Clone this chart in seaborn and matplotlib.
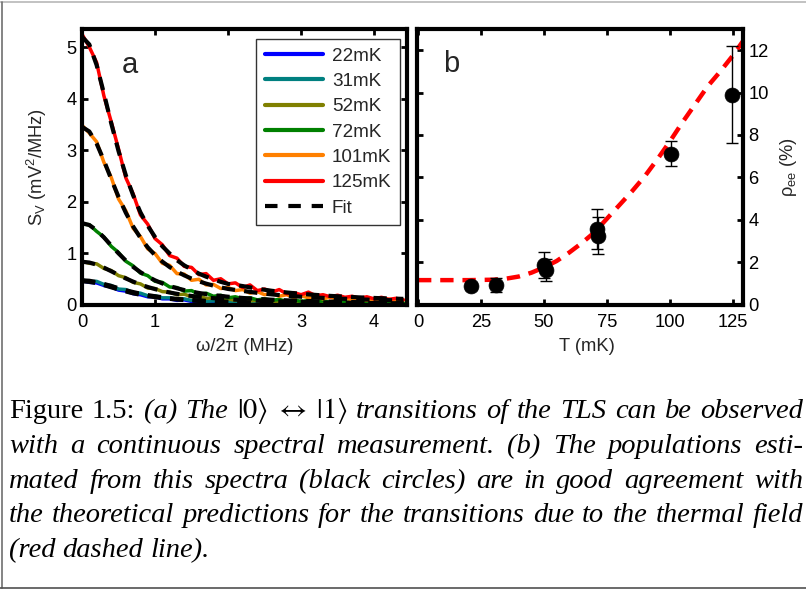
import matplotlib
matplotlib.use("Agg")
import numpy as np
import pandas as pd
import matplotlib.pyplot as plt
import seaborn as sns
from matplotlib.lines import Line2D
from matplotlib.transforms import IdentityTransform

# ---------------- data: panel a (spectra) ----------------
freq = [0.0, 0.1, 0.2, 0.3, 0.4, 0.5, 0.6, 0.7, 0.8, 0.9, 1.0, 1.1, 1.2, 1.3, 1.4,
        1.5, 1.6, 1.7, 1.8, 1.9, 2.0, 2.1, 2.2, 2.3, 2.4, 2.5, 2.6, 2.7, 2.8, 2.9,
        3.0, 3.1, 3.2, 3.3, 3.4, 3.5, 3.6, 3.7, 3.8, 3.9, 4.0, 4.1, 4.2, 4.3, 4.4]
temps = ["22mK", "31mK", "52mK", "72mK", "101mK", "125mK"]
colors = ["#0000ff", "#008080", "#808000", "#008000", "#ff8000", "#ff0000"]

s_22 = [0.46, 0.43, 0.42, 0.37, 0.34, 0.28, 0.26, 0.21, 0.19, 0.15, 0.15, 0.11, 0.11, 0.08, 0.09,
        0.06, 0.07, 0.05, 0.06, 0.04, 0.05, 0.03, 0.04, 0.02, 0.03, 0.02, 0.03, 0.01, 0.03, 0.01,
        0.02, 0.01, 0.02, 0.00, 0.02, 0.01, 0.01, 0.00, 0.01, 0.00, 0.01, 0.00, 0.01, 0.00, 0.01]
s_31 = [0.48, 0.44, 0.45, 0.39, 0.37, 0.30, 0.29, 0.23, 0.22, 0.17, 0.17, 0.13, 0.13, 0.10, 0.11,
        0.08, 0.09, 0.06, 0.07, 0.05, 0.06, 0.04, 0.05, 0.03, 0.05, 0.03, 0.04, 0.02, 0.04, 0.02,
        0.03, 0.02, 0.03, 0.01, 0.03, 0.01, 0.02, 0.01, 0.02, 0.01, 0.02, 0.01, 0.02, 0.01, 0.01]
s_52 = [0.84, 0.80, 0.79, 0.70, 0.66, 0.56, 0.52, 0.43, 0.40, 0.32, 0.31, 0.25, 0.24, 0.19, 0.20,
        0.15, 0.16, 0.12, 0.13, 0.10, 0.11, 0.08, 0.10, 0.07, 0.08, 0.06, 0.07, 0.05, 0.07, 0.04,
        0.06, 0.04, 0.05, 0.03, 0.05, 0.03, 0.04, 0.02, 0.04, 0.02, 0.04, 0.02, 0.03, 0.02, 0.03]
s_72 = [1.56, 1.55, 1.42, 1.31, 1.13, 1.01, 0.84, 0.75, 0.61, 0.56, 0.45, 0.43, 0.34, 0.33, 0.26,
        0.27, 0.20, 0.22, 0.16, 0.18, 0.13, 0.15, 0.11, 0.13, 0.09, 0.11, 0.08, 0.10, 0.06, 0.09,
        0.06, 0.08, 0.05, 0.07, 0.04, 0.07, 0.04, 0.06, 0.03, 0.06, 0.03, 0.05, 0.03, 0.05, 0.03]
s_101 = [3.48, 3.33, 3.16, 2.76, 2.47, 2.05, 1.82, 1.48, 1.32, 1.08, 0.99, 0.80, 0.76, 0.60, 0.59,
         0.47, 0.49, 0.38, 0.39, 0.31, 0.33, 0.27, 0.29, 0.22, 0.25, 0.19, 0.22, 0.16, 0.19, 0.14,
         0.17, 0.13, 0.15, 0.11, 0.14, 0.10, 0.13, 0.09, 0.12, 0.08, 0.11, 0.08, 0.10, 0.07, 0.09]
s_125 = [5.25, 5.00, 4.70, 4.05, 3.55, 3.02, 2.46, 2.15, 1.74, 1.56, 1.28, 1.16, 0.95, 0.90, 0.74,
         0.72, 0.58, 0.60, 0.47, 0.50, 0.40, 0.42, 0.33, 0.38, 0.27, 0.30, 0.24, 0.29, 0.21, 0.23,
         0.19, 0.24, 0.17, 0.19, 0.15, 0.18, 0.14, 0.16, 0.12, 0.15, 0.11, 0.14, 0.10, 0.12, 0.09]

fit_freq = [0.0, 0.1, 0.2, 0.3, 0.4, 0.5, 0.6, 0.7, 0.8, 0.9, 1.0, 1.1, 1.2, 1.3, 1.4, 1.5,
            1.6, 1.7, 1.8, 1.9, 2.0, 2.2, 2.4, 2.6, 2.8, 3.0, 3.2, 3.4, 3.6, 3.8, 4.0, 4.2, 4.4]
fit_22 = [0.450, 0.440, 0.414, 0.377, 0.334, 0.292, 0.253, 0.218, 0.189, 0.164, 0.142, 0.124,
          0.109, 0.097, 0.086, 0.077, 0.069, 0.062, 0.056, 0.051, 0.047, 0.039, 0.033, 0.029,
          0.025, 0.022, 0.019, 0.017, 0.016, 0.014, 0.013, 0.011, 0.010]
fit_31 = [0.470, 0.461, 0.436, 0.400, 0.359, 0.317, 0.277, 0.242, 0.210, 0.183, 0.160, 0.141,
          0.124, 0.110, 0.098, 0.088, 0.079, 0.071, 0.065, 0.059, 0.054, 0.045, 0.039, 0.033,
          0.029, 0.026, 0.023, 0.020, 0.018, 0.016, 0.015, 0.013, 0.012]
fit_52 = [0.830, 0.815, 0.775, 0.716, 0.646, 0.575, 0.506, 0.444, 0.388, 0.340, 0.299, 0.263,
          0.233, 0.207, 0.185, 0.166, 0.150, 0.135, 0.123, 0.112, 0.102, 0.086, 0.074, 0.064,
          0.056, 0.049, 0.043, 0.039, 0.035, 0.031, 0.028, 0.026, 0.023]
fit_72 = [1.580, 1.543, 1.443, 1.303, 1.146, 0.993, 0.853, 0.731, 0.628, 0.542, 0.469, 0.409,
          0.358, 0.316, 0.280, 0.250, 0.224, 0.202, 0.182, 0.166, 0.151, 0.127, 0.108, 0.093,
          0.081, 0.071, 0.063, 0.056, 0.050, 0.045, 0.041, 0.037, 0.034]
fit_101 = [3.450, 3.360, 3.125, 2.796, 2.436, 2.091, 1.781, 1.516, 1.295, 1.110, 0.958, 0.832,
           0.727, 0.639, 0.566, 0.503, 0.450, 0.405, 0.366, 0.332, 0.302, 0.264, 0.226, 0.196,
           0.171, 0.151, 0.135, 0.121, 0.109, 0.099, 0.091, 0.084, 0.077]
fit_125 = [5.200, 5.050, 4.650, 4.100, 3.520, 2.980, 2.510, 2.120, 1.790, 1.530, 1.310, 1.130,
           0.990, 0.860, 0.760, 0.680, 0.600, 0.540, 0.490, 0.440, 0.400, 0.358, 0.307, 0.266,
           0.234, 0.207, 0.186, 0.167, 0.152, 0.138, 0.127, 0.117, 0.109]

# ---------------- data: panel b (populations) ----------------
T_meas = [21, 31, 50, 51, 71, 71.5, 100.5, 124.5]
rho_meas = [0.87, 0.93, 1.87, 1.65, 3.56, 3.25, 7.12, 9.90]
rho_err = [0.20, 0.33, 0.62, 0.52, 0.93, 0.87, 0.60, 2.30]

T_theory = [0, 10, 20, 30, 35, 40, 45, 50, 55, 60, 65, 70, 75, 80, 85, 90, 95, 100,
            105, 110, 115, 120, 125, 130]
rho_theory = [1.15, 1.15, 1.15, 1.17, 1.22, 1.32, 1.50, 1.75, 2.05, 2.45, 2.90, 3.40, 4.05,
              4.70, 5.35, 6.05, 6.85, 7.70, 8.60, 9.45, 10.30, 11.00, 11.75, 12.60]

caption_lines = [
    [("Figure 1.5:", "normal"), ("(a) The", "italic"),
     (r"$|0\rangle\ \leftrightarrow\ |1\rangle$", "math"),
     ("transitions of the TLS can be observed", "italic")],
    [("with a continuous spectral measurement. (b) The populations esti-", "italic")],
    [("mated from this spectra (black circles) are in good agreement with", "italic")],
    [("the theoretical predictions for the transitions due to the thermal field", "italic")],
    [("(red dashed line).", "italic")],
]

# ---------------- style ----------------
sns.set_theme(style="white")
plt.rcParams["font.family"] = ["Liberation Sans", "DejaVu Sans"]
plt.rcParams["mathtext.fontset"] = "custom"
plt.rcParams["mathtext.rm"] = "Liberation Sans"
plt.rcParams["mathtext.it"] = "Liberation Sans:italic"
plt.rcParams["mathtext.bf"] = "Liberation Sans:bold"

W, H = 806, 592
fig = plt.figure(figsize=(W / 100, H / 100), dpi=100)
fig.patch.set_facecolor("white")

def px_axes(l, t, r, b):
    return fig.add_axes([l / W, 1 - b / H, (r - l) / W, (b - t) / H])

ax_a = px_axes(82, 29, 407, 304.5)
ax_b = px_axes(417, 29, 743, 304.5)

LS = 13.2

# ---- panel a ----
rows = []
for name, vals in zip(temps, [s_22, s_31, s_52, s_72, s_101, s_125]):
    for f, v in zip(freq, vals):
        rows.append((f, v, name))
df = pd.DataFrame(rows, columns=["freq", "S", "temp"])
sns.lineplot(data=df, x="freq", y="S", hue="temp", hue_order=temps,
             palette=colors, linewidth=2.5, estimator=None, sort=False,
             legend=False, ax=ax_a)

frows = []
for name, vals in zip(temps, [fit_22, fit_31, fit_52, fit_72, fit_101, fit_125]):
    for f, v in zip(fit_freq, vals):
        frows.append((f, v, name))
dff = pd.DataFrame(frows, columns=["freq", "S", "temp"])
n_before = len(ax_a.lines)
sns.lineplot(data=dff, x="freq", y="S", hue="temp", hue_order=temps,
             palette=["black"] * 6, linewidth=3.0, estimator=None, sort=False,
             legend=False, ax=ax_a)
for ln in ax_a.lines[n_before:]:
    ln.set_dashes((3.2, 2.2))
    ln.set_solid_capstyle("butt")

ax_a.set_xlim(0, 4.45)
ax_a.set_ylim(0, 5.35)
ax_a.set_xticks([0, 1, 2, 3, 4])
ax_a.set_yticks([0, 1, 2, 3, 4, 5])
ax_a.set_xlabel(r"ω/2π (MHz)", fontsize=LS)
ax_a.set_ylabel(r"S$_{\rm V}$ (mV$^{2}$/MHz)", fontsize=LS)
ax_a.xaxis.set_label_coords(0.5, -0.153)
ax_a.yaxis.set_label_coords(-0.14, 0.5)
ax_a.xaxis.label.set_va("center")
ax_a.yaxis.label.set_va("center")
ax_a.text(0.148, 0.869, "a", transform=ax_a.transAxes, fontsize=21,
          ha="center", va="center")

handles = [Line2D([], [], color=c, linewidth=3) for c in colors]
handles.append(Line2D([], [], color="black", linewidth=3, dashes=(3.0, 2.6)))
leg = ax_a.legend(handles, temps + ["Fit"], loc="upper right",
                  bbox_to_anchor=(400 / W, 1 - 39 / H), bbox_transform=fig.transFigure,
                  fontsize=13.6, frameon=True, fancybox=False, borderaxespad=0,
                  handlelength=3.1, handletextpad=0.45, labelspacing=0.43,
                  borderpad=0.45)
leg.get_frame().set_edgecolor("black")
leg.get_frame().set_linewidth(1.0)

# ---- panel b ----
dth = pd.DataFrame({"T": T_theory, "rho": rho_theory})
sns.lineplot(data=dth, x="T", y="rho", color="#ff0000", linewidth=3.2, ax=ax_b)
ax_b.lines[-1].set_dashes((3.0, 2.0))
ax_b.errorbar(T_meas, rho_meas, yerr=rho_err, fmt="none", ecolor="black",
              elinewidth=1.0, capsize=4, capthick=1.0, zorder=3)
dm = pd.DataFrame({"T": T_meas, "rho": rho_meas})
sns.scatterplot(data=dm, x="T", y="rho", color="black", s=115, edgecolor="black",
                linewidth=0.5, zorder=4, ax=ax_b)
ax_b.set_xlim(-0.4, 129)
ax_b.set_ylim(0, 13.0)
ax_b.set_xticks([0, 25, 50, 75, 100, 125])
ax_b.set_yticks([0, 2, 4, 6, 8, 10, 12])
ax_b.set_xlabel("T (mK)", fontsize=LS)
ax_b.set_ylabel(r"ρ$_{\rm ee}$ (%)", fontsize=LS)
ax_b.yaxis.set_label_position("right")
ax_b.xaxis.set_label_coords(0.52, -0.153)
ax_b.yaxis.set_label_coords(1.14, 0.5)
ax_b.xaxis.label.set_va("center")
ax_b.yaxis.label.set_va("center")
ax_b.text(0.106, 0.872, "b", transform=ax_b.transAxes, fontsize=21,
          ha="center", va="center")

for ax in (ax_a, ax_b):
    for sp in ax.spines.values():
        sp.set_visible(True)
        sp.set_color("black")
        sp.set_linewidth(3.0)
    ax.set_facecolor("white")
    ax.grid(False)
    ax.tick_params(direction="in", length=4, width=2, top=True, right=True,
                   bottom=True, left=True, labelsize=LS, colors="black",
                   labelcolor="black")
    ax.tick_params(axis="x", pad=7)
    ax.tick_params(axis="y", pad=4)
ax_b.tick_params(labelleft=False, labelright=True)

# ---- figure border ----
fig.add_artist(Line2D([0, 1], [1 - 1.5 / H, 1 - 1.5 / H], transform=fig.transFigure,
                      color="#b8b8b8", linewidth=1.2))
fig.add_artist(Line2D([1.5 / W, 1.5 / W], [1 - 588 / H, 1 - 1.5 / H], transform=fig.transFigure,
                      color="#707070", linewidth=1.2))
fig.add_artist(Line2D([0, 1], [1 - 588 / H, 1 - 588 / H], transform=fig.transFigure,
                      color="#505050", linewidth=1.2))

# ---- caption (justified) ----
renderer = fig.canvas.get_renderer()
X0, X1 = 9, 803
baselines = [418, 453, 488, 522.5, 557]
serif = ["Liberation Serif", "DejaVu Serif"]

def make_tokens(line):
    toks = []
    for txt, style in line:
        if style == "math":
            toks.append((txt, style))
        else:
            for w in txt.split(" "):
                toks.append((w, style))
    return toks

def make_text(tok, style, fs, x, y):
    kw = dict(transform=IdentityTransform(), fontsize=fs, va="baseline", ha="left",
              color="black")
    if style == "math":
        return fig.text(x, y, tok, math_fontfamily="stix", family=serif, **kw)
    return fig.text(x, y, tok, family=serif, style=style, **kw)

def natural_width(fs):
    widths = []
    for line in caption_lines[:4]:
        tot = 0
        toks = make_tokens(line)
        for tok, st in toks:
            t = make_text(tok, st, fs, 0, 0)
            tot += t.get_window_extent(renderer).width
            t.remove()
        tot += (len(toks) - 1) * fs * 100 / 72 * 0.25
        widths.append(tot)
    return max(widths)

fs = 24.0
while fs > 12 and natural_width(fs) > (X1 - X0):
    fs -= 0.25

for i, line in enumerate(caption_lines):
    toks = make_tokens(line)
    y = H - baselines[i]
    objs = [make_text(tok, st, fs, 0, y) for tok, st in toks]
    ws = [o.get_window_extent(renderer).width for o in objs]
    if i < 4 and len(objs) > 1:
        gap = ((X1 - X0) - sum(ws)) / (len(objs) - 1)
    else:
        gap = fs * 100 / 72 * 0.25
    x = X0
    for o, w in zip(objs, ws):
        o.set_x(x)
        x += w + gap

fig.savefig("out.png", dpi=100, facecolor="white")
